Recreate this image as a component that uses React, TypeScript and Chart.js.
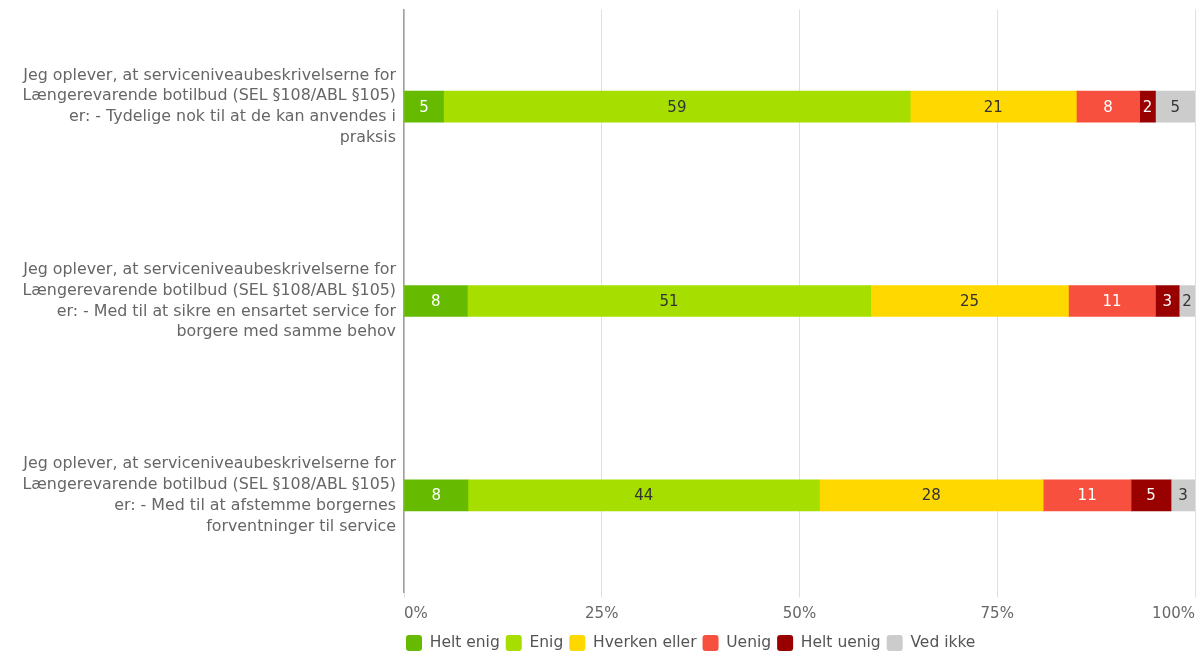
import React, { useEffect, useRef } from "react";
import { Chart, registerables } from "chart.js";

Chart.register(...registerables);

const categories: string[][] = [
  ["Jeg oplever, at serviceniveaubeskrivelserne for", "Længerevarende botilbud (SEL §108/ABL §105)", "er: - Tydelige nok til at de kan anvendes i", "praksis"],
  ["Jeg oplever, at serviceniveaubeskrivelserne for", "Længerevarende botilbud (SEL §108/ABL §105)", "er: - Med til at sikre en ensartet service for", "borgere med samme behov"],
  ["Jeg oplever, at serviceniveaubeskrivelserne for", "Længerevarende botilbud (SEL §108/ABL §105)", "er: - Med til at afstemme borgernes", "forventninger til service"],
];

const seriesNames = ["Helt enig", "Enig", "Hverken eller", "Uenig", "Helt uenig", "Ved ikke"];
const heltEnig = [5, 8, 8];
const enig = [59, 51, 44];
const hverken = [21, 25, 28];
const uenig = [8, 11, 11];
const heltUenig = [2, 3, 5];
const vedIkke = [5, 2, 3];
const seriesColors = ["#66bb00", "#a6de00", "#ffd800", "#f7503f", "#990000", "#cccccc"];
const labelColors = ["#ffffff", "#333333", "#333333", "#ffffff", "#ffffff", "#333333"];
const tickLabels = ["0%", "25%", "50%", "75%", "100%"];

const FONT = "'DejaVu Sans', sans-serif";

export default function App() {
  const ref = useRef<HTMLCanvasElement | null>(null);
  useEffect(() => {
    if (!ref.current) return;
    const raw = [heltEnig, enig, hverken, uenig, heltUenig, vedIkke];
    const totals = categories.map((_, i) => raw.reduce((s, a) => s + a[i], 0));
    const datasets = raw.map((vals, k) => ({
      label: seriesNames[k],
      data: vals.map((v, i) => (v / totals[i]) * 100),
      rawValues: vals,
      backgroundColor: seriesColors[k],
      borderWidth: 0,
      barThickness: 31,
    }));

    const labelPlugin = {
      id: "segLabels",
      afterLayout(chart: any) {
        const lg = chart.legend;
        if (lg) {
          lg.left = 400;
          lg.top = 629;
          lg.bottom = 657;
          lg.right = 1200;
        }
      },
      afterDatasetsDraw(chart: any) {
        const ctx = chart.ctx;
        ctx.save();
        ctx.font = `15px ${FONT}`;
        ctx.textAlign = "center";
        ctx.textBaseline = "middle";
        chart.data.datasets.forEach((ds: any, k: number) => {
          const meta = chart.getDatasetMeta(k);
          if (meta.hidden) return;
          meta.data.forEach((el: any, i: number) => {
            const p = el.getCenterPoint();
            ctx.fillStyle = labelColors[k];
            ctx.fillText(String(ds.rawValues[i]), p.x, p.y + 1);
          });
        });
        ctx.restore();
      },
    };

    const chart = new Chart(ref.current, {
      type: "bar",
      data: { labels: categories as any, datasets: datasets as any },
      plugins: [labelPlugin],
      options: {
        animation: false,
        responsive: true,
        maintainAspectRatio: false,
        indexAxis: "y",
        layout: { padding: { left: 0, right: 5, top: 9.5, bottom: 0 } },
        plugins: {
          tooltip: { enabled: false },
          legend: {
            position: "bottom",
            align: "start",
            labels: {
              boxWidth: 16,
              boxHeight: 16,
              padding: 6,
              color: "#555555",
              font: { family: FONT, size: 15.5 },
              useBorderRadius: true,
              borderRadius: 3,
            } as any,
          },
        },
        scales: {
          x: {
            stacked: true,
            min: 0,
            max: 100,
            border: { display: false },
            grid: { color: "#e0e0e0", drawTicks: true, tickLength: 5, tickColor: "#e0e0e0" },
            afterBuildTicks: (scale: any) => {
              scale.ticks = [0, 25, 50, 75, 100].map((v) => ({ value: v }));
            },
            afterFit: (scale: any) => {
              scale.height = 32.5;
              scale.paddingLeft = 0;
              scale.paddingRight = 0;
            },
            ticks: {
              align: "inner",
              color: "#666666",
              font: { family: FONT, size: 15 },
              padding: 7.5,
              callback: (_v: any, idx: number) => tickLabels[idx],
            },
          },
          y: {
            stacked: true,
            border: { display: true, color: "#a0a0a0", width: 1.5 },
            grid: { display: false, drawTicks: false },
            afterFit: (scale: any) => {
              scale.width = 404;
              scale.paddingTop = 0;
              scale.paddingBottom = 0;
            },
            ticks: {
              color: "#666666",
              font: { family: FONT, size: 15.85, lineHeight: 1.31 },
              padding: 8,
            },
          },
        },
      },
    });
    return () => chart.destroy();
  }, []);
  return (
    <div style={{ position: "fixed", left: 0, top: 0, width: 1200, height: 657, background: "#fff" }}>
      <canvas ref={ref} />
    </div>
  );
}
